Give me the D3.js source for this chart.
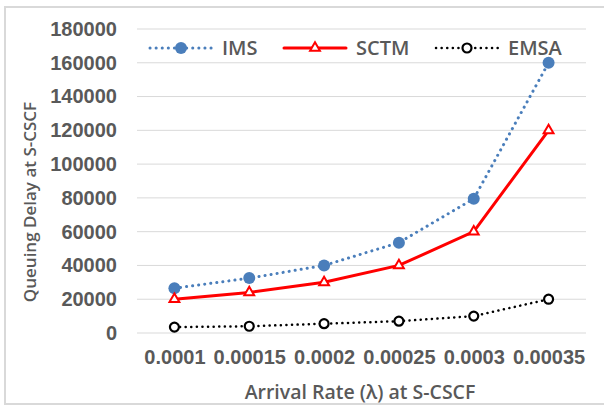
<!DOCTYPE html>
<html>
<head>
<meta charset="utf-8">
<script src="https://cdn.jsdelivr.net/npm/d3@7"></script>
<style>
  body { margin: 0; background: #fff; }
  svg { display: block; font-family: "Open Sans", sans-serif; }
</style>
</head>
<body>
<div id="chart"></div>
<script>
const rates = ["0.0001", "0.00015", "0.0002", "0.00025", "0.0003", "0.00035"];
const ims = [26500, 32500, 40000, 53500, 79500, 160000];
const sctm = [20000, 24000, 30000, 40000, 60000, 120000];
const emsa = [3500, 4000, 5500, 7000, 10000, 20000];
const yTicks = [0, 20000, 40000, 60000, 80000, 100000, 120000, 140000, 160000, 180000];

function drawChart() {
  const width = 604, height = 406;
  const margin = {left: 137, right: 18, top: 29, bottom: 73};
  const gray = "#595959";

  const svg = d3.select("#chart").append("svg")
    .attr("width", width)
    .attr("height", height);

  // chart frame
  svg.append("rect")
    .attr("x", 5).attr("y", 7)
    .attr("width", 640).attr("height", 397)
    .attr("fill", "#fff")
    .attr("stroke", "#d9d9d9")
    .attr("stroke-width", 2);

  const x = d3.scalePoint()
    .domain(rates)
    .range([margin.left, width - margin.right])
    .padding(0.5);

  const y = d3.scaleLinear()
    .domain([0, 180000])
    .range([height - margin.bottom, margin.top]);

  // grid
  svg.append("g")
    .selectAll("line")
    .data(yTicks)
    .join("line")
      .attr("x1", margin.left)
      .attr("x2", width - margin.right)
      .attr("y1", d => y(d))
      .attr("y2", d => y(d))
      .attr("stroke", "#d9d9d9")
      .attr("stroke-width", 1);

  const yAxis = svg.append("g")
    .attr("transform", `translate(${margin.left - 20},0)`)
    .call(d3.axisLeft(y).tickValues(yTicks).tickSize(0).tickPadding(0).tickFormat(d3.format("d")));
  yAxis.select(".domain").remove();
  yAxis.selectAll("text")
    .attr("fill", gray)
    .style("font-size", "20px")
    .style("font-weight", 600);

  const xAxis = svg.append("g")
    .attr("transform", `translate(0,${height - margin.bottom})`)
    .call(d3.axisBottom(x).tickSize(0).tickPadding(17));
  xAxis.select(".domain").remove();
  xAxis.selectAll("text")
    .attr("fill", gray)
    .style("font-size", "20px")
    .style("font-weight", 600);

  // axis titles
  svg.append("text")
    .attr("transform", "translate(36,202) rotate(-90)")
    .attr("text-anchor", "middle")
    .attr("fill", gray)
    .style("font-size", "17px")
    .style("font-weight", 600)
    .text("Queuing Delay at S-CSCF");

  svg.append("text")
    .attr("x", 360).attr("y", 399)
    .attr("text-anchor", "middle")
    .attr("fill", gray)
    .style("font-size", "19.5px")
    .style("font-weight", 600)
    .text("Arrival Rate (λ) at S-CSCF");

  const series = [
    {name: "IMS", values: ims, color: "#4a7ebb", dash: "0.1 6", width: 3, marker: "dot"},
    {name: "SCTM", values: sctm, color: "#ff0000", dash: null, width: 3, marker: "tri"},
    {name: "EMSA", values: emsa, color: "#000000", dash: "0.1 5.5", width: 2.5, marker: "ring"}
  ];

  const line = d3.line()
    .x((d, i) => x(rates[i]))
    .y(d => y(d));

  function marker(g, s) {
    if (s.marker === "dot") {
      g.append("circle").attr("r", 6).attr("fill", s.color);
    } else if (s.marker === "tri") {
      g.append("path")
        .attr("d", d3.symbol(d3.symbolTriangle, 42)())
        .attr("fill", "#fff")
        .attr("stroke", s.color)
        .attr("stroke-width", 2);
    } else {
      g.append("circle").attr("r", 4.5)
        .attr("fill", "#fff")
        .attr("stroke", s.color)
        .attr("stroke-width", 2.2);
    }
  }

  series.forEach(s => {
    svg.append("path")
      .datum(s.values)
      .attr("d", line)
      .attr("fill", "none")
      .attr("stroke", s.color)
      .attr("stroke-width", s.width)
      .attr("stroke-linecap", "round")
      .attr("stroke-dasharray", s.dash);

    s.values.forEach((v, i) => {
      const g = svg.append("g").attr("transform", `translate(${x(rates[i])},${y(v)})`);
      marker(g, s);
    });
  });

  // legend
  const legendX = [150, 284, 436];
  series.forEach((s, i) => {
    const g = svg.append("g").attr("transform", `translate(${legendX[i]},48)`);
    g.append("line")
      .attr("x1", 0).attr("x2", 62)
      .attr("stroke", s.color)
      .attr("stroke-width", s.width)
      .attr("stroke-linecap", "round")
      .attr("stroke-dasharray", s.dash);
    const m = g.append("g").attr("transform", "translate(31,0)");
    marker(m, s);
    g.append("text")
      .attr("x", 72).attr("y", 0)
      .attr("dy", "0.35em")
      .attr("fill", gray)
      .style("font-size", "20px")
      .style("font-weight", 600)
      .text(s.name);
  });

  return svg.node();
}

drawChart();
</script>
</body>
</html>
